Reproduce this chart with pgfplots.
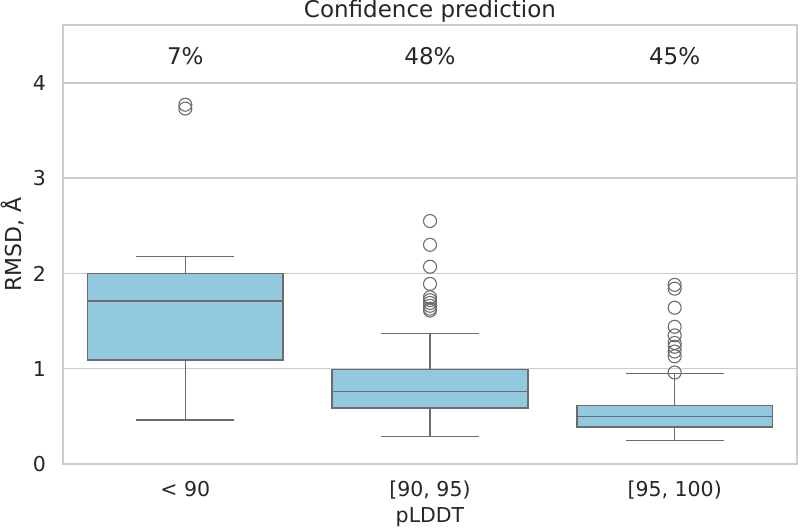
\documentclass[border=0pt]{standalone}
\usepackage{fontspec}
\setmainfont{DejaVu Sans}
\usepackage{pgfplots}
\pgfplotsset{compat=1.18}
\usepgfplotslibrary{statistics}
\definecolor{boxfill}{RGB}{147,201,222}
\definecolor{boxline}{RGB}{108,108,108}
\definecolor{gridc}{RGB}{204,204,204}
\definecolor{txt}{RGB}{38,38,38}
\newcommand{\lblfont}{\fontsize{20.5bp}{24bp}\selectfont}
\newcommand{\bigfont}{\fontsize{23bp}{27bp}\selectfont}
\begin{document}
\begin{tikzpicture}
\begin{axis}[
  at={(63bp,67bp)}, anchor=south west,
  scale only axis, width=734bp, height=439bp,
  xmin=-0.5, xmax=2.5, ymin=0, ymax=4.607,
  xtick={0,1,2}, xticklabels={{< 90},{[90, 95)},{[95, 100)}},
  ytick={0,1,2,3,4}, yticklabels={0,1,2,3,4},
  /pgf/number format/assume math mode=true,
  major tick length=0pt,
  ymajorgrids, grid style={gridc, line width=1.5bp},
  axis line style={gridc, line width=1.5bp},
  tick label style={font=\lblfont, text=txt},
  xticklabel style={anchor=base, yshift=-33bp},
  yticklabel style={anchor=east, inner sep=0pt, xshift=-17bp},
  xlabel={pLDDT}, ylabel={RMSD, Å},
  label style={font=\lblfont, text=txt},
  xlabel style={at={(axis description cs:0.5,0)}, anchor=base, yshift=-58bp},
  ylabel style={at={(axis description cs:-0.0559,0.5)}, anchor=base, font=\fontsize{22bp}{26bp}\selectfont},
  title={Confidence prediction},
  title style={at={(axis description cs:0.5,1)}, anchor=base, yshift=2bp, font=\bigfont, text=txt},
  boxplot/draw direction=y,
  clip=false,
]
\addplot[boxplot prepared={draw position=0, lower whisker=0.46, lower quartile=1.09, median=1.71, upper quartile=2.00, upper whisker=2.18, box extend=0.8, whisker extend=0.4},
  draw=boxline, fill=boxfill, line width=1.5bp, mark=o, mark size=6.5bp, mark options={draw=boxline, line width=1.1bp}]
  table[row sep=\\, y index=0] {y\\ 3.73\\ 3.77\\};
\addplot[boxplot prepared={draw position=1, lower whisker=0.29, lower quartile=0.59, median=0.76, upper quartile=0.99, upper whisker=1.37, box extend=0.8, whisker extend=0.4},
  draw=boxline, fill=boxfill, line width=1.5bp, mark=o, mark size=6.5bp, mark options={draw=boxline, line width=1.1bp}]
  table[row sep=\\, y index=0] {y\\ 1.61\\ 1.63\\ 1.66\\ 1.69\\ 1.72\\ 1.75\\ 1.89\\ 2.07\\ 2.30\\ 2.55\\};
\addplot[boxplot prepared={draw position=2, lower whisker=0.245, lower quartile=0.39, median=0.50, upper quartile=0.615, upper whisker=0.95, box extend=0.8, whisker extend=0.4},
  draw=boxline, fill=boxfill, line width=1.5bp, mark=o, mark size=6.5bp, mark options={draw=boxline, line width=1.1bp}]
  table[row sep=\\, y index=0] {y\\ 0.96\\ 1.13\\ 1.18\\ 1.23\\ 1.27\\ 1.35\\ 1.44\\ 1.64\\ 1.84\\ 1.88\\};
\node[anchor=base, font=\bigfont, text=txt] at (axis cs:0,4.19) {7\%};
\node[anchor=base, font=\bigfont, text=txt] at (axis cs:1,4.19) {48\%};
\node[anchor=base, font=\bigfont, text=txt] at (axis cs:2,4.19) {45\%};
\end{axis}
\pgfresetboundingbox
\useasboundingbox (0,0) rectangle (800bp,531bp);
\end{tikzpicture}
\end{document}
